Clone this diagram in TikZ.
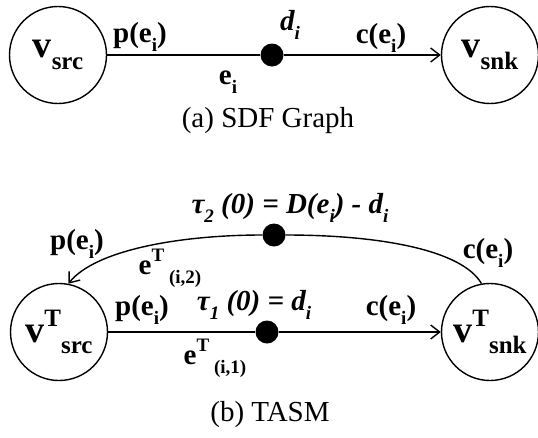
\documentclass[tikz,border=0pt]{standalone}
\usepackage{fontspec}
\setmainfont{Liberation Serif}
\usetikzlibrary{arrows.meta}
\newcommand\lsub[1]{\raisebox{-0.3em}{\fontsize{19}{19}\selectfont #1}}
\newcommand\lsup[1]{\raisebox{0.45em}{\fontsize{19}{19}\selectfont #1}}
\newcommand\vsub[1]{\raisebox{-0.3em}{\fontsize{25}{25}\selectfont #1}}
\newcommand\vsup[1]{\raisebox{0.42em}{\fontsize{25}{25}\selectfont #1}}
\tikzset{
  vert/.style={circle,draw,line width=1.4pt,minimum size=97pt,inner sep=0pt,font=\fontsize{38}{38}\selectfont\bfseries},
  tok/.style={circle,fill=black,minimum size=23pt,inner sep=0pt},
  conn/.style={line width=1.4pt},
  arr/.style={conn,-{Straight Barb[length=9pt,width=14pt,line width=1.4pt]}},
  lab/.style={font=\fontsize{29}{29}\selectfont\bfseries,inner sep=0pt},
  ilab/.style={font=\fontsize{29}{29}\selectfont\bfseries\itshape,inner sep=0pt},
  captxt/.style={font=\fontsize{29}{29}\selectfont,inner sep=0pt}
}
\begin{document}
\begin{tikzpicture}[x=1pt,y=-1pt]
\useasboundingbox (0,0) rectangle (538,437);
% (a)
\node[vert] (s1) at (58,55) {v\vsub{src}};
\node[vert] (k1) at (490,55) {v\vsub{snk}};
\node[tok] (d1) at (272,55) {};
\draw[conn] (s1) -- (d1);
\draw[arr] (d1) -- (k1);
\node[lab] (p1) at (140,37) {p(e\lsub{i})};
\node[lab] (e1) at (228,82) {e\lsub{i}};
\node[ilab] (dd1) at (290,25) {d\lsub{i}};
\node[lab] (c1) at (381,38) {c(e\lsub{i})};
\node[captxt] (ca) at (268,121) {(a) SDF Graph};
% (b)
\node[vert] (s2) at (59,332) {v\vsup{T}\vsub{src}};
\node[vert] (k2) at (490,332) {v\vsup{T}\vsub{snk}};
\node[tok] (d2) at (267,332) {};
\node[tok] (d3) at (274,235) {};
\draw[conn] (s2) -- (d2);
\draw[arr] (d2) -- (k2);
\draw[conn] (k2.100) .. controls (462,250) and (380,235) .. (d3);
\draw[arr] (d3) .. controls (180,235) and (95,250) .. (s2.79);
\node[ilab] (t2) at (290,208) {τ\lsub{2} (0) = D(e\lsub{i}) - d\lsub{i}};
\node[lab] (p2) at (77,244) {p(e\lsub{i})};
\node[lab] (et2) at (170,268) {e\lsup{T}\,\lsub{(i,2)}};
\node[lab] (c2) at (488,253) {c(e\lsub{i})};
\node[ilab] (t1) at (254,305) {τ\lsub{1} (0) = d\lsub{i}};
\node[lab] (p3) at (142,310) {p(e\lsub{i})};
\node[lab] (c3) at (391,310) {c(e\lsub{i})};
\node[lab] (et1) at (215,358) {e\lsup{T}\,\lsub{(i,1)}};
\node[captxt] (cb) at (270,415) {(b) TASM};
\end{tikzpicture}
\end{document}
